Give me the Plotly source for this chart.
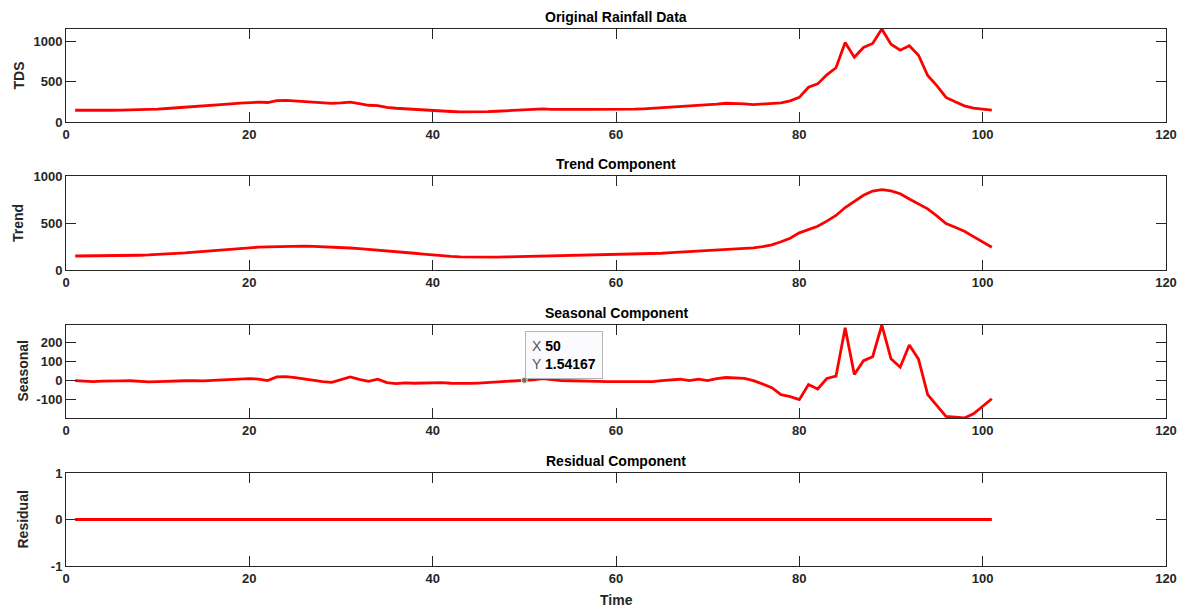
import plotly.graph_objects as go

time = list(range(1, 102))

original = [145, 143, 141, 143, 145, 146, 148, 149, 152, 160,
            167, 174, 180, 187, 195, 203, 213, 224, 233, 241,
            245, 241, 264, 268, 262, 253, 244, 237, 230, 236,
            245, 228, 207, 203, 180, 170, 162, 153, 145, 140,
            137, 130, 124, 123, 124, 128, 133, 138, 145, 147,
            150, 162, 157, 154, 154, 155, 155, 154, 153, 154,
            156, 158, 163, 170, 178, 187, 192, 195, 200, 207,
            222, 232, 231, 225, 216, 220, 227, 236, 262, 304,
            429, 471, 583, 671, 983, 800, 921, 971, 1150, 962,
            888, 942, 825, 575, 450, 304, 250, 200, 171, 154,
            146]

trend = [149, 149, 149, 150, 151, 152, 154, 157, 160, 164,
         170, 176, 183, 191, 199, 207, 216, 224, 231, 238,
         243, 247, 250, 252, 253, 253, 252, 249, 245, 240,
         234, 227, 220, 212, 204, 196, 187, 178, 168, 158,
         150, 144, 140, 138, 137, 137, 138, 140, 142, 145,
         147, 150, 152, 154, 155, 156, 157, 158, 159, 160,
         163, 166, 170, 174, 178, 184, 190, 196, 202, 208,
         213, 217, 221, 226, 235, 248, 268, 300, 338, 395,
         428, 466, 520, 580, 665, 733, 795, 840, 854, 842,
         811, 755, 705, 651, 575, 495, 455, 413, 355, 295,
         242]

seasonal = [0, -2, -5, -3, -1, -2, -1, -3, -7, -5,
            -3, 0, -1, -1, -2, 1, 4, 5, 10, 10,
            8, 0, 19, 21, 15, 7, 0, -6, -9, 3,
            19, 6, -4, 7, -11, -16, -12, -14, -13, -11,
            -11, -14, -16, -15, -13, -10, -5, -4, 2, 1.54167,
            4, 10, 5, 0, -1, -1, -2, -4, -5, -4,
            -6, -6, -7, -5, 0, 4, 7, 0, 7, 0,
            10, 16, 14, 11, 0, -18, -37, -74, -84, -100,
            -21, -44, 11, 23, 276, 32, 104, 125, 291, 114,
            70, 186, 112, -74, -133, -188, -192, -196, -174, -133,
            -95]

residual = [0] * 101

titles = ["Original Rainfall Data", "Trend Component", "Seasonal Component", "Residual Component"]
ylabels = ["TDS", "Trend", "Seasonal", "Residual"]
x_ticks = [0, 20, 40, 60, 80, 100, 120]
y_ticks = [[0, 500, 1000], [0, 500, 1000], [-100, 0, 100, 200], [-1, 0, 1]]
y_ticktext = [["0", "500", "1000"], ["0", "500", "1000"], ["-100", "0", "100", "200"], ["-1", "0", "1"]]
y_ranges = [[0, max(original)], [0, 1000], [min(seasonal), max(seasonal)], [-1, 1]]
tip_x = 50
tip_y = 1.54167

W, H = 1186, 610
left_px, right_px = 66, 1166
panels_px = [(29, 122), (176, 270), (325, 418), (473, 566)]
title_y = [17, 164, 313, 461]
ylabel_x = [18, 18, 22, 22]

FONT = "Liberation Sans, Arial, Helvetica, sans-serif"
AX = "#262626"

fig = go.Figure()
series = [original, trend, seasonal, residual]
for i, s in enumerate(series):
    fig.add_trace(go.Scatter(
        x=time, y=s, mode="lines",
        line=dict(color="#ff0000", width=2.8),
        xaxis="x" if i == 0 else f"x{i+1}",
        yaxis="y" if i == 0 else f"y{i+1}",
        showlegend=False, hoverinfo="x+y"))

# data tip marker
fig.add_trace(go.Scatter(
    x=[tip_x], y=[tip_y], mode="markers",
    marker=dict(color="#707070", size=6, line=dict(color="#f5f0c8", width=1)),
    xaxis="x3", yaxis="y3", showlegend=False, hoverinfo="skip"))

layout = dict(
    template="none",
    width=W, height=H,
    margin=dict(l=0, r=0, t=0, b=0, pad=0),
    paper_bgcolor="white", plot_bgcolor="white",
    font=dict(family=FONT, size=13, color=AX, weight="bold"),
    annotations=[],
)

xd = [left_px / W, right_px / W]
for i, (top, bot) in enumerate(panels_px):
    sfx = "" if i == 0 else str(i + 1)
    layout[f"xaxis{sfx}"] = dict(
        domain=xd, range=[0, 120], tickvals=x_ticks,
        ticks="inside", ticklen=10, tickwidth=1, tickcolor=AX,
        showline=True, linecolor=AX, linewidth=1, mirror="allticks",
        showgrid=False, zeroline=False, automargin=False,
        anchor="y" + sfx,
        tickfont=dict(family=FONT, size=13, color=AX, weight="bold"),
    )
    layout[f"yaxis{sfx}"] = dict(
        domain=[1 - bot / H, 1 - top / H], range=y_ranges[i],
        tickvals=y_ticks[i], ticktext=y_ticktext[i],
        ticks="inside", ticklen=10, tickwidth=1, tickcolor=AX,
        showline=True, linecolor=AX, linewidth=1, mirror="allticks",
        showgrid=False, zeroline=False, automargin=False,
        anchor="x" + sfx,
        tickfont=dict(family=FONT, size=13, color=AX, weight="bold"),
    )
    layout["annotations"].append(dict(
        text=titles[i], x=(left_px + right_px) / 2 / W, y=1 - title_y[i] / H,
        xref="paper", yref="paper", showarrow=False,
        xanchor="center", yanchor="middle",
        font=dict(family=FONT, size=14, color="black", weight="bold")))
    layout["annotations"].append(dict(
        text=ylabels[i], x=ylabel_x[i] / W, y=1 - (top + bot) / 2 / H,
        xref="paper", yref="paper", showarrow=False, textangle=-90,
        xanchor="center", yanchor="middle",
        font=dict(family=FONT, size=14, color=AX, weight="bold")))

layout["annotations"].append(dict(
    text="Time", x=(left_px + right_px) / 2 / W, y=1 - 600 / H,
    xref="paper", yref="paper", showarrow=False,
    xanchor="center", yanchor="middle",
    font=dict(family=FONT, size=14, color=AX, weight="bold")))

# data tip box
layout["annotations"].append(dict(
    text="<span style='font-weight:normal;color:#555555'>X</span> <b>50</b><br>"
         "<span style='font-weight:normal;color:#555555'>Y</span> <b>1.54167</b>",
    x=tip_x, y=tip_y, xref="x3", yref="y3", showarrow=False,
    xanchor="left", yanchor="bottom", xshift=1, yshift=1, align="left",
    bgcolor="#fbfbfd", bordercolor="#b4b4b4", borderwidth=1, borderpad=6,
    font=dict(family=FONT, size=14, color="black", weight="normal")))

fig.update_layout(**layout)
fig.write_html(
    "out.html",
    config={"displayModeBar": False},
    post_script="document.body.style.margin='0px';document.body.style.overflow='hidden';",
)
